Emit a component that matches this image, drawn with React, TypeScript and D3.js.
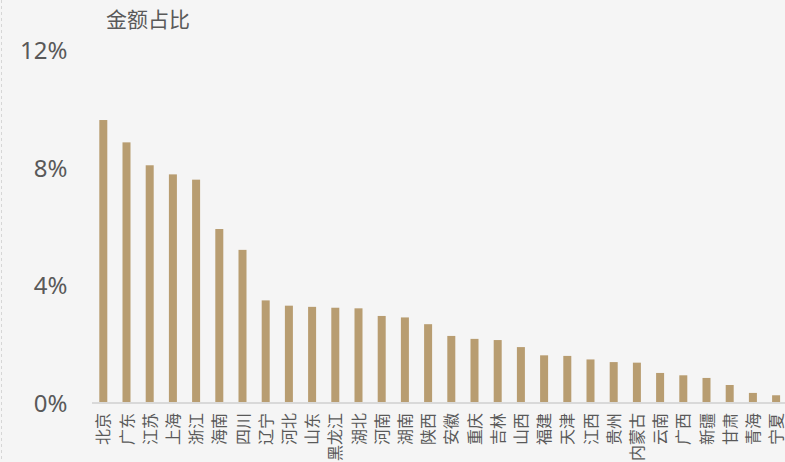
import { useEffect, useRef } from 'react'
import * as d3 from 'd3'

const provinces = [
    '北京', '广东', '江苏', '上海', '浙江', '海南', '四川', '辽宁', '河北', '山东',
    '黑龙江', '湖北', '河南', '湖南', '陕西', '安徽', '重庆', '吉林', '山西', '福建',
    '天津', '江西', '贵州', '内蒙古', '云南', '广西', '新疆', '甘肃', '青海', '宁夏'
]

const shares = [
    9.65, 8.89, 8.11, 7.80, 7.62, 5.94, 5.23, 3.51, 3.33, 3.29,
    3.26, 3.24, 2.98, 2.93, 2.70, 2.30, 2.20, 2.16, 1.92, 1.64,
    1.62, 1.50, 1.41, 1.39, 1.04, 0.96, 0.87, 0.63, 0.36, 0.28
]

const yTicks = [0, 4, 8, 12]

const title = '金额占比'

export default function App() {
    const svgRef = useRef<SVGSVGElement>(null)
    const width = 785
    const height = 462

    useEffect(() => {
        if (!svgRef.current) return

        d3.select(svgRef.current).selectAll('*').remove()

        const svg = d3.select(svgRef.current)
            .attr('width', width)
            .attr('height', height)

        // Background
        svg.append('rect')
            .attr('width', width)
            .attr('height', height)
            .attr('fill', '#f5f5f5')

        // dashed border on the left
        svg.append('line')
            .attr('x1', 1.5)
            .attr('x2', 1.5)
            .attr('y1', 0)
            .attr('y2', height)
            .attr('stroke', '#d6d6d6')
            .attr('stroke-dasharray', '3,3')

        const x = d3.scaleBand<string>()
            .domain(provinces)
            .range([91.7, 91.7 + 30 * 23.2])

        const y = d3.scaleLinear()
            .domain([0, 12])
            .range([403.5, 51])

        // y labels
        svg.selectAll('.ytick')
            .data(yTicks)
            .enter()
            .append('text')
            .attr('class', 'ytick')
            .attr('x', 67.5)
            .attr('y', d => y(d))
            .attr('dy', '0.35em')
            .style('text-anchor', 'end')
            .style('font-family', '"Noto Sans", "Noto Sans CJK SC", sans-serif')
            .style('font-size', '24px')
            .style('fill', '#595959')
            .text(d => `${d}%`)

        // title
        svg.append('text')
            .attr('x', 106)
            .attr('y', 20)
            .attr('dy', '0.35em')
            .style('font-family', '"Noto Sans CJK SC", sans-serif')
            .style('font-size', '21px')
            .style('fill', '#595959')
            .text(title)

        const barW = 8

        // bars
        svg.selectAll('.bar')
            .data(provinces)
            .enter()
            .append('rect')
            .attr('class', 'bar')
            .attr('x', d => x(d)! + x.bandwidth() / 2 - barW / 2)
            .attr('y', (d, i) => y(shares[i]))
            .attr('width', barW)
            .attr('height', (d, i) => y(0) - y(shares[i]))
            .attr('fill', '#b89d71')

        // axis line
        svg.append('line')
            .attr('x1', 92)
            .attr('x2', width)
            .attr('y1', 403)
            .attr('y2', 403)
            .attr('stroke', '#d9d9d9')
            .attr('stroke-width', 2)

        // category labels, rotated
        svg.selectAll('.xlabel')
            .data(provinces)
            .enter()
            .append('text')
            .attr('class', 'xlabel')
            .attr('transform', d => `translate(${x(d)! + x.bandwidth() / 2 + 0.5}, 413) rotate(-90)`)
            .attr('dy', '0.35em')
            .style('text-anchor', 'end')
            .style('font-family', '"Noto Sans CJK SC", sans-serif')
            .style('font-size', '16px')
            .style('fill', '#595959')
            .text(d => d)

    }, [])

    return (
        <div style={{ position: 'absolute', left: 0, top: 0 }}>
            <svg ref={svgRef} style={{ display: 'block' }}></svg>
        </div>
    )
}
